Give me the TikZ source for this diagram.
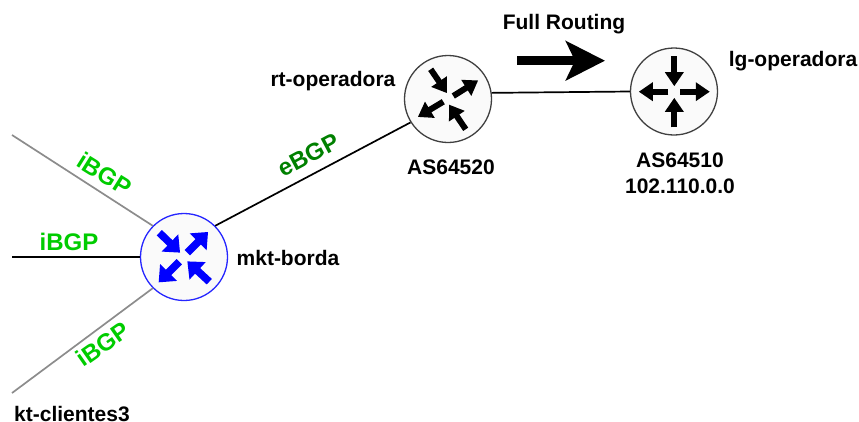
\documentclass[tikz,border=0pt]{standalone}
\usepackage{fontspec}
\setmainfont{Liberation Sans}
\usetikzlibrary{arrows.meta}
\definecolor{ibgp}{RGB}{0,204,0}
\definecolor{ebgp}{RGB}{0,128,0}
\tikzset{
  x=1pt,y=-1pt,
  router/.style={circle,draw=#1,fill=black!2,line width=1.3pt,minimum size=87pt,inner sep=0pt},
  glyph/.style={line width=7.5pt,-{Triangle[length=14pt,width=23pt]},shorten >=-0.5pt},
  link/.style={line width=1.7pt},
  graylink/.style={line width=1.7pt,draw=black!45},
  lab/.style={font=\fontsize{21}{24}\selectfont\bfseries,inner sep=0pt,align=center},
  bgp/.style={font=\fontsize{24}{26}\selectfont\bfseries,inner sep=0pt,text=ibgp},
}
\begin{document}
\begin{tikzpicture}
\useasboundingbox (0,0) rectangle (859,421);
\coordinate (e1) at (12,135);
\coordinate (e2) at (12,257);
\coordinate (e3) at (12,393);
\node[router=blue!85!white] (mkt) at (184,257) {};
\node[router=black!75] (rt) at (448,99) {};
\node[router=black!75] (lg) at (674,91.5) {};
\draw[graylink] (e1) -- (mkt.135);
\draw[link] (e2) -- (mkt.180);
\draw[graylink] (e3) -- (mkt.225);
\draw[link] (mkt.45) -- (rt.212);
\draw[link] (rt.8) -- (lg.180);
% blue glyph
\draw[glyph,blue] (159.3,232.7) -- (179.7,252.3);
\draw[glyph,blue] (187.3,252.7) -- (207.7,232.3);
\draw[glyph,blue] (179.3,261.7) -- (159,282);
\draw[glyph,blue] (209.3,281.7) -- (187.7,261.7);
% black glyphs
\begin{scope}[glyph/.append style={line width=6pt,-{Triangle[length=14pt,width=18pt]}}]
\draw[glyph] (430.7,69.3) -- (446.7,92.7);
\draw[glyph] (453.3,96) -- (477.7,80.7);
\draw[glyph] (443.3,101.7) -- (418.3,116.7);
\draw[glyph] (465.7,129.3) -- (449.3,105);
\draw[glyph] (674.3,56) -- (674.3,85.7);
\draw[glyph] (668.3,91.7) -- (639.3,91.7);
\draw[glyph] (680,91.7) -- (709.3,91.7);
\draw[glyph] (674.3,127.3) -- (674.3,98.3);
\end{scope}
% full routing arrow
\coordinate (fa) at (517,60.7);
\coordinate (fb) at (605,60.7);
\draw[line width=9.5pt,-{Stealth[length=39pt,width=39pt,inset=9pt]}] (fa) -- (fb);
% labels
\node[bgp,rotate=-32] (l1) at (104.5,174) {iBGP};
\node[bgp] (l2) at (69,242) {iBGP};
\node[bgp,rotate=35] (l3) at (103,344) {iBGP};
\node[bgp,text=ebgp,rotate=28] (l4) at (308.5,155) {eBGP};
\node[lab] (t1) at (564,24) {Full Routing};
\node[lab] (t2) at (333,81) {rt-operadora};
\node[lab] (t3) at (793,61) {lg-operadora};
\node[lab] (t4) at (288,258) {mkt-borda};
\node[lab] (t5) at (451,167) {AS64520};
\node[lab] (t6) at (680,173) {AS64510\hspace{6pt}\\[2pt]102.110.0.0};
\node[lab,anchor=west] (t7) at (14,414) {kt-clientes3};
\end{tikzpicture}
\end{document}
